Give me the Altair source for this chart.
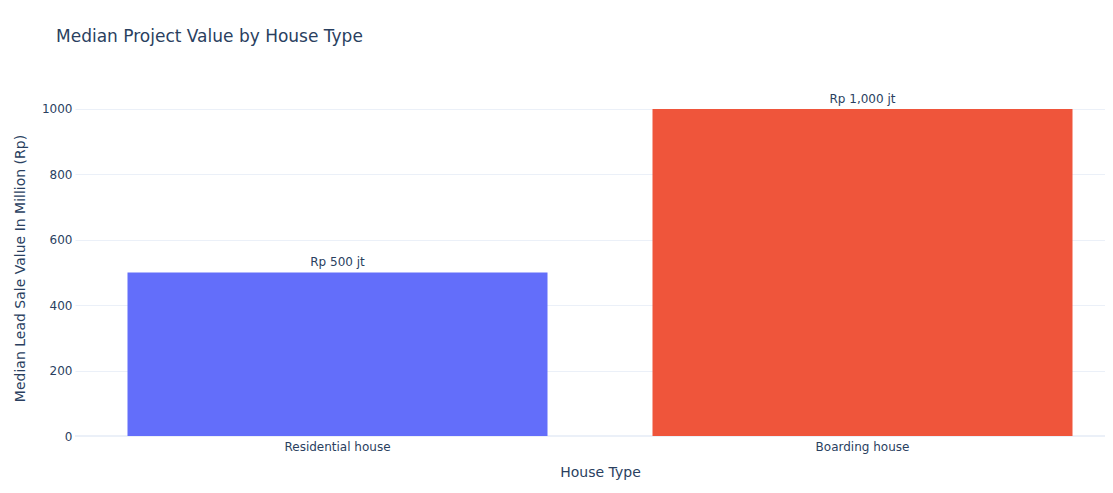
import altair as alt
import pandas as pd

categories = ["Residential house", "Boarding house"]
values = [500, 1000]
labels = ["Rp 500 jt", "Rp 1,000 jt"]
colors = ["#636efa", "#EF553B"]

df = pd.DataFrame({"type": categories, "value": values, "label": labels})

FONT = "DejaVu Sans"
TXT = "#2a3f5f"

x_enc = alt.X(
    "type:N",
    sort=categories,
    scale=alt.Scale(domain=categories, range=[0, 1050], paddingInner=0.2, paddingOuter=0.1),
    axis=alt.Axis(
        title="House Type", labelAngle=0, ticks=False, domain=False, grid=False,
        labelPadding=5, titlePadding=13, titleX=525, titleAlign="center",
        labelFont=FONT, labelFontSize=12, labelColor=TXT,
        titleFont=FONT, titleFontSize=14, titleColor=TXT, titleFontWeight="normal",
    ),
)
y_scale = alt.Scale(domain=[0, 1027.5], nice=False)

bars = alt.Chart(df).mark_bar().encode(
    x=x_enc,
    y=alt.Y(
        "value:Q",
        scale=y_scale,
        axis=alt.Axis(
            title="Median Lead Sale Value In Million (Rp)",
            values=[0, 200, 400, 600, 800, 1000], format="d",
            ticks=False, domain=False, gridColor="#EBF0F8", gridWidth=1,
            labelPadding=3, labelFont=FONT, labelFontSize=12, labelColor=TXT,
            titleFont=FONT, titleFontSize=14, titleColor=TXT, titleFontWeight="normal",
            titleX=-55, titleBaseline="middle",
        ),
    ),
    color=alt.Color("type:N", scale=alt.Scale(domain=categories, range=colors), legend=None),
)

zero = alt.Chart(pd.DataFrame({"z": [0]})).mark_rule(color="#EBF0F8", strokeWidth=2).encode(
    y=alt.Y("z:Q", scale=y_scale),
    x=alt.value(0), x2=alt.value(1030),
)

text = alt.Chart(df).mark_text(baseline="bottom", dy=-3, font=FONT, fontSize=12, color=TXT).encode(
    x=x_enc,
    y=alt.Y("value:Q", scale=y_scale),
    text="label:N",
)

chart = alt.layer(zero, bars, text).properties(
    width=1030, height=336,
    autosize=alt.AutoSizeParams(type="none"),
    padding={"left": 67, "top": 92, "right": 0, "bottom": 49},
    title=alt.TitleParams(
        "Median Project Value by House Type", anchor="start", frame="group", dx=-19, offset=47,
        font=FONT, fontSize=17, color=TXT, fontWeight="normal",
    ),
).configure_view(stroke=None)

chart.save("out.html", embed_options={"renderer": "svg", "actions": False})
